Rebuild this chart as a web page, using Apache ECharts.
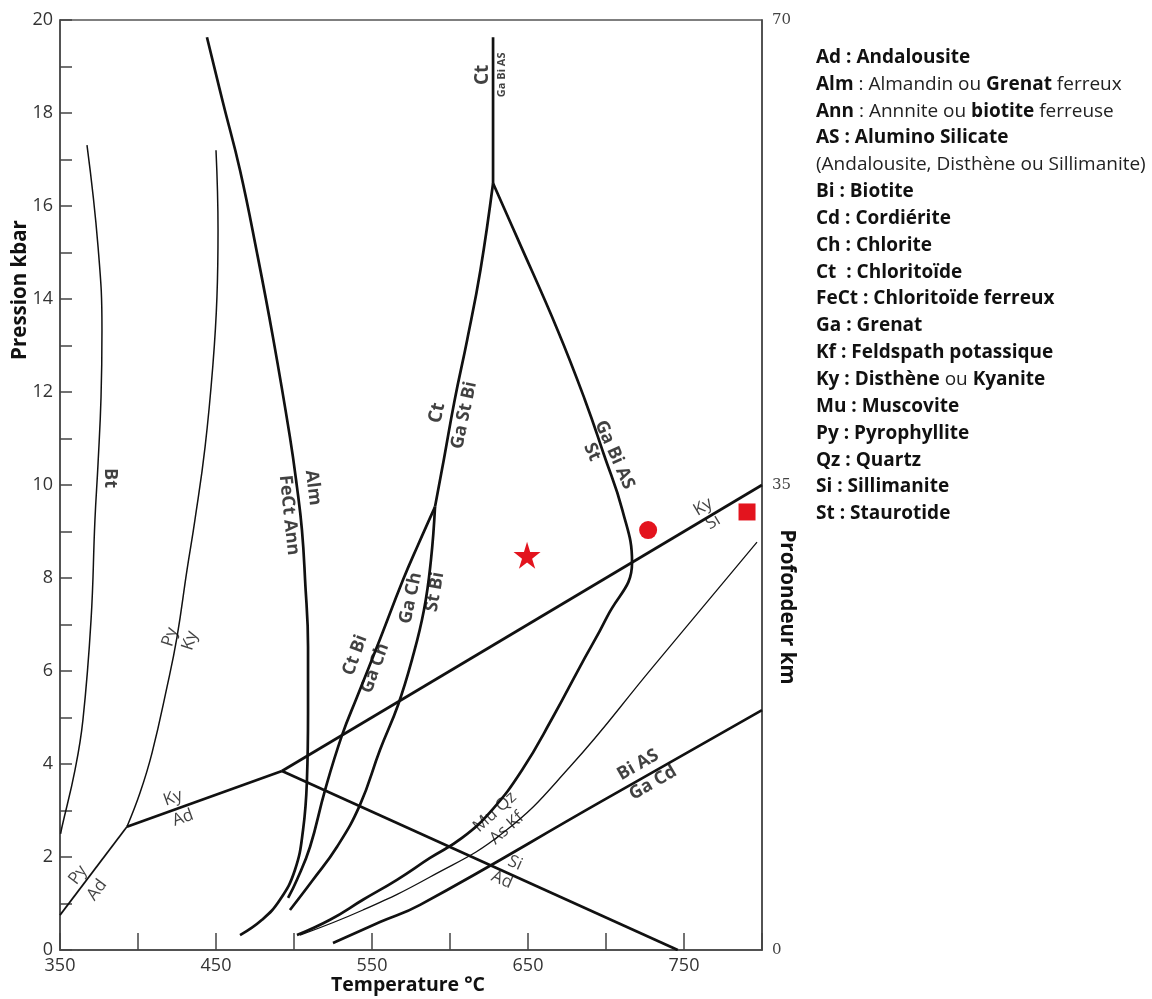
<!DOCTYPE html>
<html>
<head>
<meta charset="utf-8">
<script src="https://cdn.jsdelivr.net/npm/echarts@6/dist/echarts.min.js"></script>
<style>
  html, body { margin: 0; padding: 0; background: #fff; }
  #chart { width: 1152px; height: 999px; }
</style>
</head>
<body>
<div id="chart"></div>
<script>
// courbes du diagramme P-T  [T °C, P kbar]
const btCurve = [[367.3, 17.31], [374.4, 15.12], [376.9, 13.33], [376.3, 11.89], [374.4, 10.47], [372.4, 9.25], [369.9, 7.1], [364.7, 4.95], [359.6, 3.87], [351.3, 2.65], [350.4, 2.5]]
const pyKyCurve = [[450.0, 17.2], [451.3, 15.48], [450.6, 14.04], [448.1, 12.62], [443.0, 10.82], [436.5, 9.25], [431.4, 8.17], [425.0, 6.73], [418.6, 5.66], [409.0, 4.24], [401.3, 3.38], [392.9, 2.65]]
const pyAdLine = [[350.0, 0.75], [392.9, 2.65]]
const kyAdLine = [[392.9, 2.65], [492.3, 3.85]]
const kySiLine = [[492.3, 3.85], [800.0, 10.0]]
const siAdLine = [[492.3, 3.85], [746.0, 0.0]]
const almCurve = [[444.2, 19.63], [454.5, 18.22], [465.4, 16.77], [476.3, 14.99], [486.5, 13.18], [497.4, 11.03], [501.9, 9.96], [505.1, 9.03], [507.1, 7.96], [509.0, 6.52], [509.0, 5.1], [508.3, 3.66], [505.8, 2.58], [500.6, 1.72], [491.0, 1.08], [479.5, 0.65], [465.4, 0.32]]
const ctBiGaChCurve = [[590.4, 9.53], [579.5, 8.71], [569.9, 7.96], [553.2, 6.52], [540.4, 5.44], [530.8, 4.62], [519.9, 3.44], [510.3, 2.22], [501.9, 1.51], [496.2, 1.12]]
const gaChStBiCurve = [[590.4, 9.53], [587.8, 8.39], [583.3, 7.31], [575.6, 6.24], [566.7, 5.27], [555.1, 4.3], [542.3, 3.12], [527.6, 2.22], [512.2, 1.51], [497.4, 0.86]]
const ctGaStBiCurve = [[627.6, 16.49], [619.5, 14.62], [611.0, 13.12], [603.0, 11.83], [596.0, 10.54], [590.4, 9.53]]
const ctGaBiAsLine = [[627.6, 16.49], [627.6, 19.63]]
const gaBiAsStCurve = [[627.6, 16.49], [642.9, 15.33], [669.0, 13.33], [686.5, 11.83], [698.7, 10.65], [710.5, 9.46], [716.7, 8.34], [700.6, 7.16], [683.3, 6.09], [666.0, 5.01], [646.2, 3.87], [626.9, 3.01], [607.7, 2.41], [587.2, 1.98], [566.0, 1.51], [544.2, 1.08], [523.1, 0.65], [501.9, 0.32]]
const muQzAsKfCurve = [[796.8, 8.77], [730.1, 6.09], [676.9, 3.94], [634.0, 2.52], [587.2, 1.57], [544.2, 0.86], [503.8, 0.32]]
const biAsGaCdCurve = [[800.0, 5.16], [696.2, 3.18], [580.8, 0.97], [555.1, 0.6], [525.0, 0.15]]

// échantillons
const sampleStar = [[649.4, 8.49]]
const sampleCircle = [[727.0, 9.03]]
const sampleSquare = [[790.4, 9.42]]

// étiquettes des réactions : texte, T, P, angle, gras, taille
const lineLabels = [
  ['Bt', 382.1, 10.15, -90, true],
  ['Alm', 512.2, 9.94, -83, true],
  ['FeCt Ann', 496.8, 9.35, -84, true],
  ['Py', 420.5, 6.73, 72, false],
  ['Ky', 433.3, 6.65, 72, false],
  ['Ky', 422.4, 3.27, 20, false],
  ['Ad', 428.8, 2.84, 20, false],
  ['Py', 361.5, 1.61, 53, false],
  ['Ad', 373.7, 1.29, 53, false],
  ['Ct Bi', 539.1, 6.34, 70, true],
  ['Ga Ch', 551.9, 6.06, 70, true],
  ['Ga Ch', 574.8, 7.57, 78, true],
  ['St Bi', 590.4, 7.7, 80, true],
  ['Ct', 591.7, 11.55, 78, true, 19],
  ['Ga St Bi', 609.0, 11.5, 78, true],
  ['Ct', 621.2, 18.82, 90, true, 19],
  ['Ga Bi AS', 633.3, 18.82, 90, true, 11],
  ['Ga Bi AS', 705.5, 10.65, -66, true],
  ['St', 691.0, 10.71, -66, true],
  ['Ky', 762.2, 9.53, 31, false],
  ['Si', 768.6, 9.2, 31, false],
  ['Mu Qz', 628.8, 2.97, 42, false],
  ['As Kf', 636.5, 2.62, 42, false],
  ['Si', 641.7, 1.87, -24, false],
  ['Ad', 633.3, 1.51, -24, false],
  ['Bi AS', 720.5, 3.98, 30, true],
  ['Ga Cd', 730.1, 3.59, 30, true]
]

// légende des abréviations : [texte, gras]
const legendRows = [
  [['Ad : Andalousite', true]],
  [['Alm', true], [' : Almandin ou ', false], ['Grenat', true], [' ferreux', false]],
  [['Ann', true], [' : Annnite ou ', false], ['biotite', true], [' ferreuse', false]],
  [['AS : Alumino Silicate', true]],
  [['(Andalousite, Disthène ou Sillimanite)', false]],
  [['Bi : Biotite', true]],
  [['Cd : Cordiérite', true]],
  [['Ch : Chlorite', true]],
  [['Ct  : Chloritoïde', true]],
  [['FeCt : Chloritoïde ferreux', true]],
  [['Ga : Grenat', true]],
  [['Kf : Feldspath potassique', true]],
  [['Ky : Disthène', true], [' ou ', false], ['Kyanite', true]],
  [['Mu : Muscovite', true]],
  [['Py : Pyrophyllite', true]],
  [['Qz : Quartz', true]],
  [['Si : Sillimanite', true]],
  [['St : Staurotide', true]]
]

const FONT = '"Open Sans", "Noto Sans", sans-serif'
const chart = echarts.init(document.getElementById('chart'))

function curve(data, width, smooth) {
  return {
    type: 'line',
    data: data,
    symbol: 'none',
    smooth: smooth ? 0.45 : false,
    silent: true,
    lineStyle: { color: '#111', width: width },
    z: 3
  }
}

function marker(data, symbol, size) {
  return {
    type: 'scatter',
    data: data,
    symbol: symbol,
    symbolSize: size,
    itemStyle: { color: '#e3141e', opacity: 1 },
    z: 5
  }
}

const legendText = legendRows
  .map((row) => row.map(([t, b]) => `{${b ? 'b' : 'n'}|${t}}`).join(''))
  .join('\n')

const option = {
  backgroundColor: '#fff',
  animation: false,
  grid: {
    left: 60,
    right: 390,
    top: 20,
    bottom: 49,
    show: true,
    borderColor: '#555',
    borderWidth: 1.5
  },
  xAxis: {
    type: 'value',
    min: 350,
    max: 800,
    interval: 50,
    splitLine: { show: false },
    axisLine: { lineStyle: { color: '#444', width: 1.5 } },
    axisTick: { inside: true, length: 17, lineStyle: { color: '#444', width: 1.5 } },
    axisLabel: {
      margin: 7,
      color: '#333',
      fontFamily: FONT,
      fontSize: 18,
      formatter: (v) => ((v - 350) % 100 === 0 && v < 800 ? String(v) : '')
    }
  },
  yAxis: [
    {
      type: 'value',
      min: 0,
      max: 20,
      interval: 1,
      splitLine: { show: false },
      axisLine: { lineStyle: { color: '#444', width: 1.5 } },
      axisTick: { inside: true, length: 12, lineStyle: { color: '#444', width: 1.5 } },
      axisLabel: {
        margin: 7,
        color: '#333',
        fontFamily: FONT,
        fontSize: 18,
        formatter: (v) => (v % 2 === 0 ? String(v) : '')
      }
    },
    {
      type: 'value',
      position: 'right',
      min: 0,
      max: 70,
      interval: 35,
      splitLine: { show: false },
      axisLine: { show: true, lineStyle: { color: '#444', width: 1.5 } },
      axisTick: { show: false },
      axisLabel: { margin: 10, color: '#444', fontFamily: 'Georgia, "DejaVu Serif", serif', fontSize: 15 }
    }
  ],
  series: [
    curve(btCurve, 1.5, true),
    curve(pyKyCurve, 1.5, true),
    curve(pyAdLine, 1.7, false),
    curve(kyAdLine, 2.7, false),
    curve(kySiLine, 2.7, false),
    curve(siAdLine, 2.7, false),
    curve(almCurve, 2.7, true),
    curve(ctBiGaChCurve, 2.7, true),
    curve(gaChStBiCurve, 2.7, true),
    curve(ctGaStBiCurve, 2.7, true),
    curve(ctGaBiAsLine, 2.7, false),
    curve(gaBiAsStCurve, 2.7, true),
    curve(muQzAsKfCurve, 1.3, true),
    curve(biAsGaCdCurve, 2.7, true),
    marker(sampleStar, 'path://M50,0 L61,35 L98,35 L68,57 L79,91 L50,70 L21,91 L32,57 L2,35 L39,35 Z', 27),
    marker(sampleCircle, 'circle', 18),
    marker(sampleSquare, 'rect', 17),
    {
      type: 'scatter',
      symbolSize: 0.1,
      itemStyle: { color: 'transparent' },
      silent: true,
      z: 6,
      data: lineLabels.map((l) => ({
        value: [l[1], l[2]],
        name: l[0],
        label: {
          rotate: l[3],
          fontWeight: l[4] ? 'bold' : 'normal',
          fontSize: l[5] || (l[4] ? 18 : 17)
        }
      })),
      label: {
        show: true,
        position: 'inside',
        formatter: (p) => p.name,
        color: '#111',
        fontFamily: FONT
      }
    }
  ],
  graphic: [
    {
      type: 'text',
      left: 816,
      top: 44,
      style: {
        text: legendText,
        fill: '#111',
        fontFamily: FONT,
        fontSize: 19,
        lineHeight: 26.85,
        rich: {
          b: { fontWeight: 'bold', fontSize: 19, lineHeight: 26.85, fontFamily: FONT, fill: '#111' },
          n: { fontWeight: 'normal', fontSize: 19, lineHeight: 26.85, fontFamily: FONT, fill: '#222' }
        }
      }
    },
    {
      type: 'text',
      x: 408,
      y: 985,
      style: { text: 'Temperature °C', fontFamily: FONT, fontWeight: 'bold', fontSize: 19.5, fill: '#111', textAlign: 'center', textVerticalAlign: 'middle' }
    },
    {
      type: 'text',
      x: 20,
      y: 290,
      rotation: Math.PI / 2,
      style: { text: 'Pression kbar', fontFamily: FONT, fontWeight: 'bold', fontSize: 20.5, fill: '#111', textAlign: 'center', textVerticalAlign: 'middle' }
    },
    {
      type: 'text',
      x: 787,
      y: 607,
      rotation: -Math.PI / 2,
      style: { text: 'Profondeur km', fontFamily: FONT, fontWeight: 'bold', fontSize: 20.5, fill: '#111', textAlign: 'center', textVerticalAlign: 'middle' }
    }
  ]
}

chart.setOption(option)
</script>
</body>
</html>
